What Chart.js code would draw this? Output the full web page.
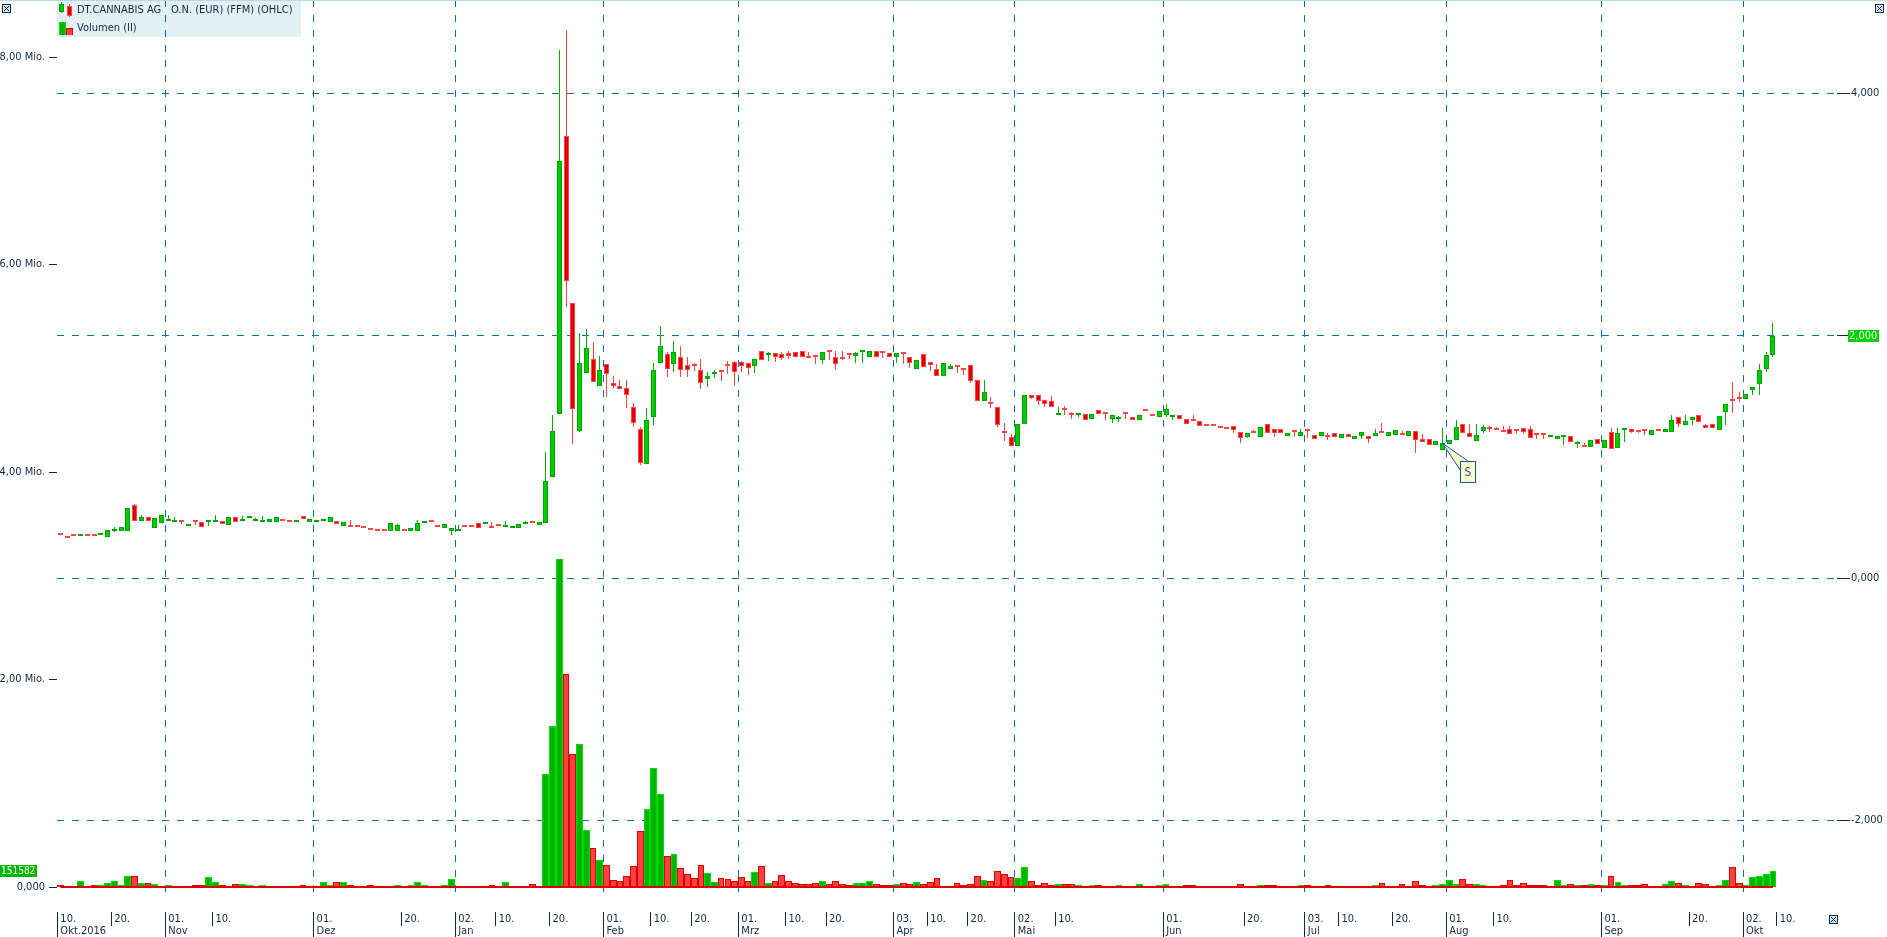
<!DOCTYPE html>
<html>
<head>
<meta charset="utf-8">
<script src="https://cdn.jsdelivr.net/npm/chart.js@4.4.0/dist/chart.umd.min.js"></script>
<style>
  html, body { margin: 0; padding: 0; background: #fff; overflow: hidden; }
  canvas { display: block; }
</style>
</head>
<body>
<canvas id="chart" width="1887" height="937" style="width:1887px;height:937px"></canvas>
<script>
// Handelstage: Start, Feiertage, Anzahl Slots (inkl. leerer Bereich rechts)
const startDay = '2016-10-10';
const holidays = ['2016-12-26', '2017-04-14', '2017-04-17', '2017-05-01', '2017-06-05', '2017-10-03'];
const slotCount = 264;

// OHLC (EUR) pro Handelstag
const opens = [
  0.361,0.336,0.345,0.345,0.345,0.345,0.352,0.341,0.385,0.390,
  0.390,0.602,0.473,0.500,0.415,0.456,0.470,0.465,0.460,0.433,
  0.460,0.459,0.458,0.462,0.470,0.440,0.500,0.469,0.498,0.469,
  0.465,0.465,0.465,0.474,0.468,0.466,0.509,0.465,0.466,0.467,
  0.465,0.470,0.426,0.419,0.419,0.429,0.401,0.394,0.394,0.390,
  0.390,0.394,0.390,0.390,0.456,0.468,0.419,0.415,0.390,0.390,
  0.419,0.419,0.451,0.448,0.411,0.435,0.423,0.415,0.415,0.443,
  0.470,0.434,0.456,0.836,1.350,3.643,2.266,1.215,1.688,1.804,
  1.586,1.762,1.606,1.586,1.564,1.408,1.226,0.938,1.331,1.771,
  1.845,1.762,1.820,1.754,1.752,1.715,1.639,1.680,1.715,1.765,
  1.779,1.779,1.776,1.746,1.870,1.837,1.858,1.847,1.856,1.864,
  1.870,1.828,1.821,1.795,1.862,1.820,1.807,1.843,1.828,1.861,
  1.826,1.870,1.859,1.853,1.820,1.851,1.826,1.721,1.845,1.779,
  1.721,1.669,1.727,1.741,1.716,1.754,1.630,1.462,1.449,1.408,
  1.200,1.160,1.091,1.267,1.507,1.507,1.465,1.457,1.342,1.384,
  1.361,1.342,1.353,1.314,1.386,1.351,1.309,1.313,1.351,1.325,
  1.300,1.376,1.353,1.331,1.342,1.325,1.342,1.309,1.300,1.292,
  1.252,1.252,1.251,1.235,1.251,1.204,1.166,1.194,1.160,1.268,
  1.226,1.226,1.168,1.218,1.168,1.226,1.177,1.168,1.169,1.193,
  1.152,1.185,1.144,1.168,1.168,1.168,1.194,1.168,1.177,1.183,
  1.174,1.210,1.144,1.144,1.094,1.053,1.103,1.136,1.268,1.193,
  1.127,1.210,1.235,1.235,1.203,1.226,1.211,1.235,1.226,1.178,
  1.178,1.160,1.144,1.159,1.168,1.102,1.079,1.078,1.144,1.070,
  1.202,1.070,1.218,1.226,1.210,1.226,1.177,1.211,1.202,1.202,
  1.325,1.259,1.301,1.342,1.259,1.268,1.218,1.367,1.465,1.490,
  1.474,1.548,1.598,1.720,1.840
];
const highs = [
  0.361,0.336,0.345,0.352,0.345,0.363,0.363,0.396,0.423,0.421,
  0.577,0.610,0.520,0.500,0.492,0.517,0.520,0.500,0.470,0.435,
  0.460,0.459,0.478,0.517,0.470,0.500,0.500,0.511,0.509,0.492,
  0.511,0.484,0.500,0.474,0.468,0.468,0.509,0.484,0.468,0.478,
  0.500,0.470,0.465,0.478,0.419,0.429,0.405,0.394,0.394,0.451,
  0.445,0.394,0.410,0.478,0.470,0.468,0.419,0.445,0.410,0.437,
  0.419,0.419,0.451,0.462,0.462,0.435,0.470,0.429,0.445,0.470,
  0.470,0.462,1.037,1.344,4.355,4.520,2.266,2.018,2.051,1.946,
  1.831,1.762,1.666,1.633,1.633,1.441,1.248,1.400,1.771,2.078,
  1.864,1.957,1.913,1.820,1.776,1.804,1.702,1.715,1.715,1.790,
  1.790,1.790,1.776,1.809,1.875,1.864,1.858,1.867,1.870,1.867,
  1.870,1.861,1.821,1.861,1.862,1.870,1.870,1.843,1.867,1.867,
  1.870,1.870,1.859,1.853,1.853,1.851,1.826,1.801,1.845,1.779,
  1.765,1.771,1.765,1.741,1.716,1.754,1.630,1.633,1.490,1.408,
  1.276,1.188,1.267,1.507,1.512,1.507,1.465,1.501,1.408,1.419,
  1.369,1.353,1.353,1.353,1.386,1.351,1.342,1.336,1.351,1.325,
  1.342,1.376,1.353,1.375,1.435,1.342,1.342,1.309,1.344,1.292,
  1.252,1.270,1.251,1.235,1.251,1.204,1.193,1.221,1.243,1.268,
  1.226,1.226,1.193,1.218,1.226,1.226,1.177,1.201,1.193,1.193,
  1.185,1.185,1.168,1.201,1.168,1.226,1.276,1.201,1.218,1.210,
  1.210,1.210,1.188,1.144,1.127,1.235,1.136,1.303,1.268,1.268,
  1.268,1.259,1.251,1.248,1.251,1.251,1.211,1.235,1.251,1.178,
  1.178,1.168,1.168,1.177,1.168,1.127,1.111,1.136,1.144,1.136,
  1.235,1.235,1.226,1.226,1.210,1.226,1.218,1.211,1.226,1.342,
  1.325,1.342,1.325,1.342,1.268,1.268,1.334,1.433,1.617,1.532,
  1.515,1.573,1.765,1.860,2.100
];
const lows = [
  0.359,0.334,0.343,0.343,0.343,0.343,0.352,0.341,0.377,0.390,
  0.390,0.470,0.473,0.473,0.415,0.456,0.470,0.465,0.445,0.433,
  0.437,0.418,0.432,0.462,0.448,0.440,0.465,0.469,0.498,0.469,
  0.465,0.465,0.465,0.472,0.466,0.466,0.484,0.465,0.466,0.467,
  0.465,0.443,0.426,0.417,0.417,0.415,0.393,0.392,0.392,0.390,
  0.388,0.392,0.390,0.390,0.456,0.466,0.417,0.415,0.355,0.390,
  0.417,0.417,0.415,0.448,0.409,0.433,0.423,0.415,0.415,0.443,
  0.456,0.434,0.456,0.836,1.350,2.238,1.105,1.207,1.688,1.614,
  1.586,1.495,1.564,1.556,1.405,1.248,0.932,0.938,1.262,1.771,
  1.661,1.702,1.661,1.661,1.710,1.556,1.578,1.647,1.627,1.680,
  1.586,1.696,1.674,1.688,1.795,1.787,1.779,1.795,1.806,1.823,
  1.820,1.812,1.768,1.768,1.801,1.715,1.795,1.804,1.771,1.771,
  1.826,1.820,1.817,1.820,1.771,1.768,1.729,1.721,1.738,1.710,
  1.664,1.669,1.727,1.694,1.674,1.611,1.457,1.462,1.405,1.248,
  1.132,1.091,1.091,1.267,1.479,1.430,1.413,1.408,1.342,1.347,
  1.314,1.325,1.300,1.314,1.350,1.300,1.281,1.284,1.314,1.300,
  1.300,1.374,1.333,1.331,1.331,1.303,1.309,1.273,1.292,1.256,
  1.250,1.250,1.234,1.233,1.198,1.116,1.157,1.192,1.160,1.193,
  1.166,1.193,1.168,1.166,1.168,1.157,1.144,1.168,1.135,1.160,
  1.152,1.160,1.144,1.144,1.116,1.168,1.192,1.168,1.177,1.181,
  1.174,1.034,1.119,1.094,1.094,1.053,1.103,1.136,1.193,1.160,
  1.127,1.193,1.202,1.218,1.201,1.185,1.185,1.185,1.152,1.144,
  1.144,1.160,1.144,1.094,1.119,1.070,1.077,1.078,1.103,1.070,
  1.062,1.070,1.119,1.193,1.193,1.177,1.177,1.209,1.202,1.202,
  1.243,1.259,1.259,1.284,1.235,1.235,1.218,1.259,1.358,1.449,
  1.474,1.507,1.507,1.700,1.820
];
const closes = [
  0.359,0.334,0.343,0.347,0.343,0.343,0.363,0.396,0.404,0.421,
  0.577,0.473,0.500,0.473,0.492,0.517,0.478,0.476,0.458,0.435,
  0.458,0.418,0.460,0.478,0.448,0.500,0.465,0.471,0.509,0.471,
  0.478,0.484,0.500,0.472,0.466,0.468,0.484,0.484,0.468,0.476,
  0.500,0.443,0.465,0.417,0.417,0.415,0.393,0.392,0.392,0.451,
  0.437,0.392,0.410,0.451,0.470,0.466,0.417,0.445,0.410,0.404,
  0.417,0.417,0.415,0.462,0.409,0.433,0.425,0.429,0.445,0.462,
  0.456,0.462,0.800,1.210,3.436,2.447,1.391,1.771,1.894,1.614,
  1.715,1.680,1.586,1.556,1.507,1.276,0.951,1.303,1.715,1.913,
  1.721,1.864,1.715,1.715,1.749,1.611,1.666,1.684,1.696,1.748,
  1.696,1.748,1.729,1.809,1.795,1.841,1.820,1.814,1.831,1.823,
  1.820,1.812,1.819,1.861,1.860,1.762,1.805,1.841,1.853,1.867,
  1.870,1.820,1.857,1.820,1.853,1.849,1.771,1.801,1.738,1.754,
  1.664,1.771,1.746,1.739,1.714,1.627,1.457,1.534,1.433,1.259,
  1.196,1.091,1.267,1.507,1.488,1.457,1.435,1.408,1.353,1.382,
  1.344,1.353,1.300,1.353,1.350,1.349,1.342,1.315,1.349,1.300,
  1.342,1.374,1.333,1.375,1.397,1.342,1.309,1.273,1.292,1.256,
  1.250,1.250,1.234,1.233,1.223,1.157,1.193,1.192,1.243,1.193,
  1.193,1.193,1.193,1.201,1.201,1.209,1.144,1.201,1.167,1.160,
  1.185,1.160,1.168,1.201,1.144,1.193,1.192,1.201,1.218,1.181,
  1.210,1.136,1.119,1.094,1.127,1.111,1.136,1.243,1.193,1.160,
  1.177,1.243,1.226,1.218,1.201,1.185,1.209,1.202,1.152,1.176,
  1.176,1.168,1.168,1.161,1.119,1.104,1.077,1.136,1.103,1.136,
  1.062,1.193,1.226,1.202,1.202,1.210,1.218,1.209,1.226,1.301,
  1.268,1.292,1.325,1.284,1.235,1.235,1.334,1.433,1.457,1.474,
  1.515,1.573,1.713,1.840,2.000
];
// Volumen (Stück)
const volumes = [
  20000,5000,4000,58000,3000,15000,20000,39000,58000,20000,
  106000,106000,35000,35000,29000,4000,19000,4000,10000,4000,
  19000,19000,96000,48000,19000,8000,29000,27000,20000,8000,
  20000,10000,12000,8000,5000,8000,20000,8000,10000,48000,
  20000,48000,48000,15000,8000,12000,20000,5000,8000,12000,
  15000,8000,20000,48000,20000,8000,10000,15000,77000,5000,
  10000,12000,12000,8000,20000,10000,48000,12000,10000,10000,
  25000,10000,1089000,1552000,3161000,2057000,1285000,1378000,553000,373000,
  257000,209000,64000,55000,103000,199000,537000,749000,1144000,893000,
  296000,315000,180000,122000,84000,209000,132000,45000,84000,74000,
  55000,93000,55000,141000,200000,42000,55000,113000,55000,35000,
  30000,30000,40000,55000,30000,60000,30000,20000,40000,35000,
  55000,30000,15000,20000,30000,40000,30000,50000,30000,50000,
  90000,10000,10000,40000,20000,30000,106000,67000,55000,154000,
  125000,96000,87000,193000,58000,20000,40000,20000,30000,30000,
  30000,20000,10000,20000,20000,10000,10000,20000,10000,10000,
  30000,10000,10000,20000,30000,10000,10000,20000,20000,10000,
  10000,10000,10000,10000,10000,30000,10000,10000,20000,20000,
  20000,10000,5000,10000,20000,20000,10000,10000,20000,10000,
  10000,10000,10000,10000,10000,20000,40000,10000,5000,30000,
  10000,55000,20000,10000,20000,30000,67000,30000,77000,30000,
  30000,20000,10000,10000,20000,67000,20000,40000,20000,20000,
  20000,10000,67000,20000,30000,20000,20000,30000,20000,20000,
  106000,48000,20000,20000,20000,30000,10000,5000,30000,58000,
  40000,20000,10000,40000,30000,10000,20000,67000,193000,40000,
  20000,96000,106000,125000,151582
];

// Beschriftung der Zeitachse
const tickDates = ['2016-10-10','2016-10-20','2016-11-01','2016-11-10','2016-12-01','2016-12-20',
  '2017-01-02','2017-01-10','2017-01-20','2017-02-01','2017-02-10','2017-02-20','2017-03-01',
  '2017-03-10','2017-03-20','2017-04-03','2017-04-10','2017-04-20','2017-05-02','2017-05-10',
  '2017-06-01','2017-06-20','2017-07-03','2017-07-10','2017-07-20','2017-08-01','2017-08-10',
  '2017-09-01','2017-09-20','2017-10-02','2017-10-10'];
const tickMonths = ['Okt.2016','','Nov','','Dez','','Jan','','','Feb','','','Mrz','','','Apr','','',
  'Mai','','Jun','','Jul','','','Aug','','Sep','','Okt',''];
const volTicks = [0, 2000000, 4000000, 6000000, 8000000];
const volTickLabels = ['0,000', '2,00 Mio.', '4,00 Mio.', '6,00 Mio.', '8,00 Mio.'];
const priceTicks = [-2, 0, 2, 4];
const priceTickLabels = ['-2,000', '0,000', '2,000', '4,000'];
const legendTexts = ['DT.CANNABIS AG', 'O.N. (EUR) (FFM) (OHLC)', 'Volumen (II)'];
const markerDates = ['2017-07-31'];
const markerTexts = ['S'];

// Farben & Schrift
const FONT = "'DejaVu Sans Condensed', 'Liberation Sans Narrow', 'Liberation Sans', sans-serif";
const INK = '#0e2a47';
const GRID_BLUE = '#0b6db5';
const UP = { body: '#00cc00', edge: '#00a400', wick: '#00b000', vol: '#00b400', volEdge: '#00dd00' };
const DOWN = { body: '#e00000', edge: '#ff4646', wick: '#ff4040', vol: '#ff4040', volEdge: '#dd0000' };

// Kalender der Handelstage aufbauen
const dates = [];
for (let d = new Date(startDay + 'T12:00:00Z'); dates.length < slotCount; d.setUTCDate(d.getUTCDate() + 1)) {
    const iso = d.toISOString().slice(0, 10);
    const wd = d.getUTCDay();
    if (wd > 0 && wd < 6 && !holidays.includes(iso)) dates.push(iso);
}
const tickIndex = tickDates.map(d => dates.indexOf(d));
const tickDays = tickDates.map(d => d.slice(8) + '.');
const monthLines = tickIndex.filter((idx, k) => k > 0 && tickMonths[k]);

const rising = i => i === undefined || closes[i] >= opens[i];
const pick = (up, down) => c => rising(c.dataIndex) ? up : down;

function closeIcon(ctx, x, y) {
    ctx.fillStyle = '#d2e8f0';
    ctx.fillRect(x, y, 9, 9);
    ctx.strokeStyle = INK;
    ctx.lineWidth = 1;
    ctx.strokeRect(x + 0.5, y + 0.5, 8, 8);
    ctx.beginPath();
    ctx.moveTo(x + 2, y + 2); ctx.lineTo(x + 7, y + 7);
    ctx.moveTo(x + 7, y + 2); ctx.lineTo(x + 2, y + 7);
    ctx.stroke();
}

function valueTag(ctx, text, x, y, size, color) {
    ctx.font = size + 'px ' + FONT;
    const w = Math.ceil(ctx.measureText(text).width) + 2;
    ctx.fillStyle = color;
    ctx.fillRect(x, Math.round(y) - 6, w, 12);
    ctx.fillStyle = '#ffffff';
    ctx.textAlign = 'left';
    ctx.textBaseline = 'middle';
    ctx.fillText(text, x + 1, Math.round(y) + 0.5);
}

// Slot-Kante links vom Tag idx (Pixel)
function slotEdge(xs, idx) {
    const slot = xs.getPixelForValue(1) - xs.getPixelForValue(0);
    return Math.round(xs.getPixelForValue(idx) - slot / 2) + 0.5;
}

// Balken auf ganze Pixel legen, damit Dochte und Kanten scharf bleiben
const snap = {
    id: 'snap',
    afterDatasetsUpdate(chart) {
        chart.data.datasets.forEach((ds, di) => {
            const meta = chart.getDatasetMeta(di);
            if (meta.type !== 'bar') return;
            meta.data.forEach(el => {
                if (ds.label === 'Docht') {
                    el.x = Math.floor(el.x) + 0.5;
                    el.width = 1;
                } else if (ds.label === 'Kerze') {
                    el.x = Math.floor(el.x) + 0.5;
                    el.width = 5;
                } else {
                    const l = Math.round(el.x - el.width / 2), r = Math.round(el.x + el.width / 2);
                    el.x = (l + r) / 2;
                    el.width = r - l;
                }
                el.y = Math.round(el.y);
                el.base = Math.round(el.base);
            });
        });
    }
};

const decor = {
    id: 'decor',
    beforeDraw(chart) {
        const { ctx, chartArea: a } = chart;
        ctx.save();
        // Legendenkasten (liegt unter dem Gitter)
        ctx.fillStyle = '#e3f0f3';
        ctx.fillRect(a.left, 0, 244, 37);
        ctx.fillStyle = UP.wick; ctx.fillRect(61, 2, 1, 11);
        ctx.fillStyle = UP.edge; ctx.fillRect(59, 4, 5, 8);
        ctx.fillStyle = UP.body; ctx.fillRect(60, 5, 3, 6);
        ctx.fillStyle = DOWN.wick; ctx.fillRect(69, 4, 1, 13);
        ctx.fillStyle = DOWN.edge; ctx.fillRect(67, 6, 5, 10);
        ctx.fillStyle = DOWN.body; ctx.fillRect(68, 7, 3, 8);
        ctx.fillStyle = UP.volEdge; ctx.fillRect(59, 22, 7, 13);
        ctx.fillStyle = UP.vol; ctx.fillRect(60, 23, 5, 12);
        ctx.fillStyle = DOWN.volEdge; ctx.fillRect(66, 28, 7, 7);
        ctx.fillStyle = DOWN.vol; ctx.fillRect(67, 29, 5, 6);
        ctx.font = '11px ' + FONT;
        ctx.fillStyle = INK;
        ctx.textAlign = 'left';
        ctx.textBaseline = 'middle';
        ctx.fillText(legendTexts[0], 77, 10.5);
        ctx.fillText(legendTexts[1], 171, 10.5);
        ctx.fillText(legendTexts[2], 77, 28.5);
        ctx.restore();
    },
    beforeDatasetsDraw(chart) {
        // senkrechte Monatslinien, gestrichelt
        const { ctx, chartArea: a, scales } = chart;
        ctx.save();
        ctx.strokeStyle = GRID_BLUE;
        ctx.lineWidth = 1;
        ctx.setLineDash([7, 8]);
        monthLines.forEach(idx => {
            const x = slotEdge(scales.x, idx);
            ctx.beginPath();
            ctx.moveTo(x, a.top);
            ctx.lineTo(x, a.bottom);
            ctx.stroke();
        });
        ctx.restore();
    },
    afterDraw(chart) {
        const { ctx, chartArea: a, scales } = chart;
        const xs = scales.x, yp = scales.yPrice, yv = scales.yVol;
        ctx.save();
        ctx.fillStyle = '#b4dbe4';
        ctx.fillRect(0, 0, chart.width, 1);

        // Teilstriche der Zeitachse
        ctx.strokeStyle = INK;
        ctx.lineWidth = 1;
        tickIndex.forEach((idx, k) => {
            const x = slotEdge(xs, idx);
            ctx.beginPath();
            ctx.moveTo(x, a.bottom + 17);
            ctx.lineTo(x, tickMonths[k] ? chart.height : a.bottom + 31);
            ctx.stroke();
        });

        // Ereignismarke
        markerDates.forEach((md, k) => {
            const i = dates.indexOf(md);
            const ax = xs.getPixelForValue(i), ay = yp.getPixelForValue(closes[i]);
            const bx = Math.round(ax + 17) + 0.5, by = Math.round(ay + 18) + 0.5;
            ctx.fillStyle = '#ffffc4';
            ctx.strokeStyle = '#1c4fb8';
            ctx.beginPath();
            ctx.moveTo(ax, ay); ctx.lineTo(bx, by + 9); ctx.lineTo(bx + 8, by); ctx.closePath();
            ctx.fill(); ctx.stroke();
            ctx.fillRect(bx, by, 15, 21);
            ctx.strokeRect(bx, by, 15, 21);
            ctx.fillStyle = '#1c4fb8';
            ctx.font = '12px ' + FONT;
            ctx.textAlign = 'center';
            ctx.textBaseline = 'middle';
            ctx.fillText(markerTexts[k], bx + 7.5, by + 11);
        });

        // Letzte Werte
        const last = closes.length - 1;
        valueTag(ctx, closes[last].toFixed(3).replace('.', ','), a.right + 11, yp.getPixelForValue(closes[last]), 11, '#00d000');
        valueTag(ctx, String(volumes[volumes.length - 1]), 0, yv.getPixelForValue(volumes[volumes.length - 1]), 10, '#00b800');

        closeIcon(ctx, 2, 4);
        closeIcon(ctx, chart.width - 12, 4);
        closeIcon(ctx, a.right - 8, a.bottom + 20);
        ctx.restore();
    }
};

const axisFont = { family: FONT, size: 11, lineHeight: 1.12 };

new Chart(document.getElementById('chart'), {
    type: 'bar',
    data: {
        labels: dates,
        datasets: [
            {
                type: 'line',
                label: 'Basis',
                data: volumes.map(() => 0),
                yAxisID: 'yVol',
                borderColor: '#e00000',
                borderWidth: 2,
                pointRadius: 0,
                order: 0
            },
            {
                label: 'Kerze',
                data: opens.map((o, i) => [o, closes[i]]),
                yAxisID: 'yPrice',
                grouped: false,
                categoryPercentage: 1,
                barPercentage: 0.7,
                minBarLength: 2,
                borderWidth: 1,
                borderSkipped: false,
                backgroundColor: pick(UP.body, DOWN.body),
                borderColor: pick(UP.edge, DOWN.edge),
                order: 1
            },
            {
                label: 'Docht',
                data: lows.map((l, i) => [l, highs[i]]),
                yAxisID: 'yPrice',
                grouped: false,
                barThickness: 1,
                inflateAmount: 0,
                borderWidth: 0,
                backgroundColor: pick(UP.wick, DOWN.wick),
                order: 2
            },
            {
                label: 'Volumen (II)',
                data: volumes,
                yAxisID: 'yVol',
                grouped: false,
                categoryPercentage: 1,
                barPercentage: 1,
                inflateAmount: 0,
                borderWidth: 1,
                borderSkipped: 'start',
                backgroundColor: pick(UP.vol, DOWN.vol),
                borderColor: pick(UP.volEdge, DOWN.volEdge),
                order: 3
            }
        ]
    },
    options: {
        responsive: false,
        devicePixelRatio: 1,
        animation: false,
        events: [],
        layout: { padding: 0 },
        plugins: { legend: { display: false }, tooltip: { enabled: false } },
        scales: {
            x: {
                type: 'category',
                offset: true,
                afterFit: s => { s.height = 42; s.paddingLeft = 0; s.paddingRight = 0; },
                grid: { display: false, drawTicks: false },
                border: { display: false },
                ticks: {
                    autoSkip: false,
                    maxRotation: 0,
                    minRotation: 0,
                    align: 'start',
                    padding: 17.5,
                    color: INK,
                    font: axisFont,
                    callback: (v, i) => {
                        const k = tickIndex.indexOf(i);
                        if (k < 0) return null;
                        return tickMonths[k] ? [tickDays[k], tickMonths[k]] : tickDays[k];
                    }
                }
            },
            yVol: {
                type: 'linear',
                position: 'left',
                min: -77000,
                max: 8550000,
                afterFit: s => { s.width = 57; s.paddingTop = 0; s.paddingBottom = 0; },
                afterBuildTicks: s => { s.ticks = volTicks.map(v => ({ value: v })); },
                grid: { drawOnChartArea: false, drawTicks: true, tickLength: 8, tickColor: INK, tickWidth: 1 },
                border: { display: false },
                ticks: { padding: 4, color: INK, font: axisFont, callback: v => volTickLabels[volTicks.indexOf(v)] }
            },
            yPrice: {
                type: 'linear',
                position: 'right',
                min: -2.614,
                max: 4.767,
                afterFit: s => { s.width = 50; s.paddingTop = 0; s.paddingBottom = 0; },
                afterBuildTicks: s => { s.ticks = priceTicks.map(v => ({ value: v })); },
                grid: {
                    color: GRID_BLUE,
                    lineWidth: 1,
                    drawTicks: true,
                    tickLength: 13,
                    tickColor: INK,
                    tickWidth: 1,
                    tickBorderDash: []
                },
                border: { display: false, dash: [7, 8] },
                ticks: { padding: 1, color: INK, font: axisFont, callback: v => priceTickLabels[priceTicks.indexOf(v)] }
            }
        }
    },
    plugins: [snap, decor]
});
</script>
</body>
</html>
